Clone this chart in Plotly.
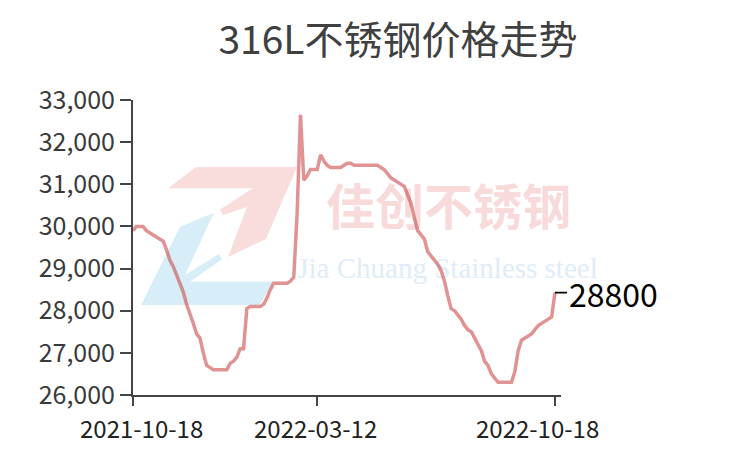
import plotly.graph_objects as go

# ---------------- data ----------------
title_text = "316L不锈钢价格走势"
tick_labels = ["2021-10-18", "2022-03-12", "2022-10-18"]
tick_index = [0, 55, 126]
end_label = "28800"

prices = [
    29900, 30000, 30000, 30000, 29900, 29850, 29800, 29750, 29700, 29650,
    29450, 29200, 29050, 28850, 28600, 28450, 28150, 27950, 27700, 27450,
    27350, 27000, 26700, 26650, 26600, 26600, 26600, 26600, 26600, 26750,
    26800, 26900, 27100, 27100, 28050, 28100, 28100, 28100, 28100, 28150,
    28300, 28500, 28650, 28650, 28650, 28650, 28650, 28700, 28800, 30300,
    32650, 31100, 31200, 31350, 31350, 31350, 31700, 31550, 31450, 31400,
    31400, 31400, 31400, 31450, 31500, 31500, 31450, 31450, 31450, 31450,
    31450, 31450, 31450, 31450, 31400, 31350, 31250, 31150, 31100, 31050,
    31000, 30950, 30750, 30550, 30200, 29900, 29800, 29700, 29400, 29300,
    29200, 29100, 28950, 28700, 28350, 28050, 28000, 27900, 27800, 27650,
    27550, 27500, 27350, 27200, 27050, 26800, 26700, 26500, 26400, 26300,
    26300, 26300, 26300, 26300, 26550, 27050, 27300, 27350, 27400, 27450,
    27550, 27650, 27700, 27750, 27800, 27850, 28430,
]
watermark_cn = "佳创不锈钢"
watermark_en = "Jia Chuang Stainless steel"

# ---------------- layout geometry (screen pixels) ----------------
OFF = 8                      # default page body margin
W, H = 734, 455              # figure size (fits the 750x471 window)
L, R, T, B = 133, 561, 100, 395   # plot area on screen
N = len(prices)
step = (555 - L) / (N - 1)
xmax = (R - L) / step


def px(x):
    return (x - L) / (R - L)


def py(y):
    return (B - y) / (B - T)


def path(pts):
    return "M " + " L ".join(f"{px(a):.4f},{py(b):.4f}" for a, b in pts) + " Z"


pink_pts = [(168, 188.3), (196, 167), (297, 167), (266, 239), (228, 257),
            (247, 207), (223, 215), (220, 209.5), (253, 188.3)]
blue_pts = [(180, 226.7), (214, 212.7), (185, 275), (219, 254), (222, 259.3),
            (190, 281.7), (273, 281.7), (260, 305), (141, 305)]

fig = go.Figure()
fig.add_trace(go.Scatter(
    x=list(range(N)), y=prices, mode="lines",
    line=dict(color="rgba(205,75,75,0.6)", width=3.5),
    hoverinfo="skip", showlegend=False,
))

shapes = [
    dict(type="path", xref="paper", yref="paper", path=path(pink_pts),
         fillcolor="rgb(249,220,220)", line=dict(width=0), layer="below"),
    dict(type="path", xref="paper", yref="paper", path=path(blue_pts),
         fillcolor="rgb(215,238,248)", line=dict(width=0), layer="below"),
    dict(type="rect", xref="paper", yref="paper",
         x0=px(320), x1=px(577), y0=py(236), y1=py(187),
         line=dict(width=0), fillcolor="rgba(0,0,0,0)", layer="below",
         label=dict(text=watermark_cn, textposition="middle center",
                    font=dict(family="Noto Sans CJK SC", size=49,
                              color="rgb(249,218,218)", weight="bold"))),
    dict(type="rect", xref="paper", yref="paper",
         x0=px(290), x1=px(605), y0=py(281), y1=py(249),
         line=dict(width=0), fillcolor="rgba(0,0,0,0)", layer="below",
         label=dict(text=watermark_en, textposition="middle center",
                    font=dict(family="Liberation Serif", size=29,
                              color="rgb(222,237,249)"))),
]

annotations = []
label_px = [141, 315, 537]
for lab, xp in zip(tick_labels, label_px):
    annotations.append(dict(
        text=lab, xref="paper", yref="paper", x=px(xp), y=py(427),
        xanchor="center", yanchor="middle", showarrow=False,
        font=dict(family="Noto Sans CJK SC", size=24, color="#222"),
    ))
annotations.append(dict(
    text=end_label, x=N - 1, y=prices[-1], xref="x", yref="y",
    showarrow=True, arrowhead=0, arrowwidth=1.6, arrowcolor="#000",
    ax=58, ay=0, standoff=0,
    font=dict(family="Noto Sans CJK SC", size=32, color="#000"),
))

fig.update_layout(
    width=W, height=H,
    margin=dict(l=L - OFF, r=(W + OFF) - R, t=T - OFF, b=(H + OFF) - B, pad=0),
    paper_bgcolor="white", plot_bgcolor="white",
    title=dict(text=title_text, x=(398 - OFF) / W, xanchor="center",
               y=1 - (40 - OFF) / H, yanchor="middle", xref="container",
               font=dict(family="Noto Sans CJK SC", size=39, color="#404040")),
    xaxis=dict(range=[0, xmax], tickvals=tick_index, ticktext=["", "", ""],
               ticks="outside", ticklen=9, tickwidth=2, tickcolor="#444",
               showline=True, linecolor="#444", linewidth=2,
               showgrid=False, zeroline=False),
    yaxis=dict(range=[26000, 33000], dtick=1000, tick0=26000,
               tickformat=",", ticks="outside", ticklen=11, tickwidth=2,
               tickcolor="#444", showline=True, linecolor="#444", linewidth=2,
               showgrid=False, zeroline=False,
               tickfont=dict(family="Noto Sans CJK SC", size=25, color="#3a3a3a")),
    shapes=shapes,
    annotations=annotations,
)

fig.write_html("out.html")
